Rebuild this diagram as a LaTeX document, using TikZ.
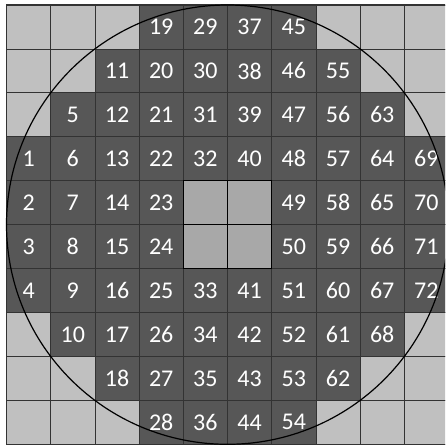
\documentclass[tikz,border=0pt]{standalone}
\usepackage{fontspec}
\setmainfont{Carlito}
\definecolor{lightcell}{HTML}{C0C0C0}
\definecolor{darkcell}{HTML}{575757}
\definecolor{midcell}{HTML}{A8A8A8}
\definecolor{gridline}{HTML}{333333}
\begin{document}
\begin{tikzpicture}[x=1pt,y=-1pt,
  cellbase/.style={draw=gridline, line width=0.8pt, minimum width=44.2pt, minimum height=43.93pt,
    inner sep=0pt, outer sep=0pt, anchor=north west},
  lightbox/.style={cellbase, fill=lightcell},
  darkbox/.style={cellbase, fill=darkcell, text=white, font=\fontsize{24}{24}\selectfont},
  midbox/.style={cellbase, fill=midcell, draw=black, line width=1.3pt},
  ring/.style={draw=black, line width=1.2pt}]
\useasboundingbox (0,0) rectangle (445,446);
\clip (0,0) rectangle (445,446);
% light background cells
\foreach \r in {0,...,9}{
  \foreach \c in {0,...,9}{
    \node[lightbox] (l-\r-\c) at ({6.5+44.2*\c},{5+43.93*\r}) {};
  }
}
% dark numbered cells
\foreach \n/\c/\r in {
  19/3/0, 29/4/0, 37/5/0, 45/6/0,
  11/2/1, 20/3/1, 30/4/1, 38/5/1, 46/6/1, 55/7/1,
  5/1/2, 12/2/2, 21/3/2, 31/4/2, 39/5/2, 47/6/2, 56/7/2, 63/8/2,
  1/0/3, 6/1/3, 13/2/3, 22/3/3, 32/4/3, 40/5/3, 48/6/3, 57/7/3, 64/8/3, 69/9/3,
  2/0/4, 7/1/4, 14/2/4, 23/3/4, 49/6/4, 58/7/4, 65/8/4, 70/9/4,
  3/0/5, 8/1/5, 15/2/5, 24/3/5, 50/6/5, 59/7/5, 66/8/5, 71/9/5,
  4/0/6, 9/1/6, 16/2/6, 25/3/6, 33/4/6, 41/5/6, 51/6/6, 60/7/6, 67/8/6, 72/9/6,
  10/1/7, 17/2/7, 26/3/7, 34/4/7, 42/5/7, 52/6/7, 61/7/7, 68/8/7,
  18/2/8, 27/3/8, 35/4/8, 43/5/8, 53/6/8, 62/7/8,
  28/3/9, 36/4/9, 44/5/9, 54/6/9}{
  \node[darkbox] (n\n) at ({6.5+44.2*\c},{5+43.93*\r}) {\n};
}
% central grey cells
\foreach \c/\r in {4/4, 5/4, 4/5, 5/5}{
  \node[midbox] (m-\r-\c) at ({6.5+44.2*\c},{5+43.93*\r}) {};
}
% outer frame
\draw[draw=gridline, line width=1.2pt] (l-0-0.north west) rectangle (l-9-9.south east);
% circle
\draw[ring] (227.5,224.65) ellipse [x radius=221, y radius=219.65];
\end{tikzpicture}
\end{document}
